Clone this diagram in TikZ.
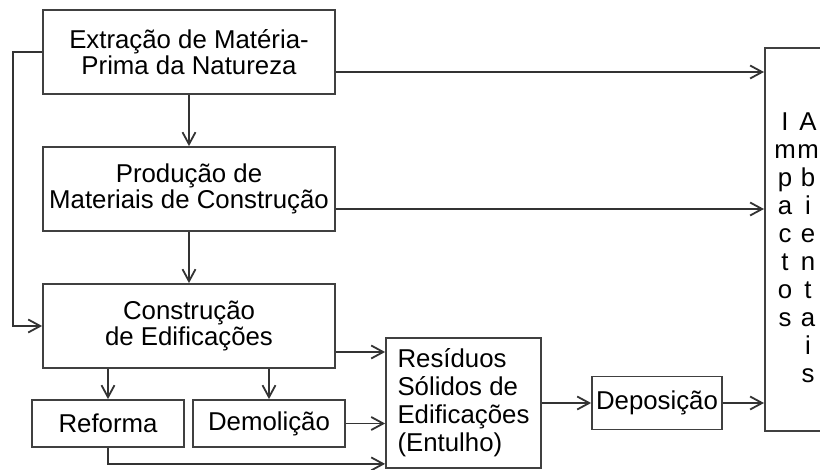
\documentclass[tikz,border=0pt]{standalone}
\usepackage{fontspec}
\setmainfont{Liberation Sans}
\usetikzlibrary{positioning,arrows.meta}

\begin{document}
\begin{tikzpicture}[
    node distance=68.5pt,
    block/.style={rectangle, draw=black!75, line width=0.9pt, minimum width=146pt, minimum height=42pt, inner sep=1pt, align=center, font=\fontsize{12.9}{12}\selectfont},
    small/.style={block, minimum width=76pt, minimum height=23.5pt},
    vtext/.style={inner sep=0pt, align=center, font=\fontsize{12.9}{14}\selectfont},
    arrow/.style={-{Straight Barb[length=6pt,width=6.5pt]}, line width=0.9pt, black!80}
]
\useasboundingbox (0,0) rectangle (410pt,-235pt);

% Main chain
\node[block] (extr) at (94.5pt,-26pt) {Extração de Matéria-\\Prima da Natureza};
\node[block, below of=extr] (prod) {Produção de\\Materiais de Construção};
\node[block, below of=prod] (constr) {Construção\\de Edificações};

% Works on buildings
\node[small, below of=constr, xshift=-40.5pt, yshift=19.75pt] (reforma) {Reforma};
\node[small, right of=reforma, xshift=12pt] (demol) {Demolição};

% Waste and where it goes
\node[block, minimum width=77.5pt, minimum height=65pt, align=left, font=\fontsize{12.9}{14}\selectfont, right of=demol, xshift=28.75pt, yshift=10.25pt] (resid) {Resíduos\\Sólidos de\\Edificações\\(Entulho)};
\node[small, minimum width=65pt, minimum height=26.5pt, right of=resid, xshift=28.25pt] (depos) {Deposição};

% Environmental impacts (cut at the right margin)
\node[block, minimum width=40pt, minimum height=191.5pt, anchor=north west] (impact) at (382pt,-23.5pt) {};
\node[vtext, anchor=north] (imp-a) at (392.5pt,-56pt) {I\\m\\p\\a\\c\\t\\o\\s};
\node[vtext, anchor=north] (imp-b) at (404pt,-56pt) {A\\m\\b\\i\\e\\n\\t\\a\\i\\s};

% Chain arrows
\draw[arrow] (extr) -- (prod);
\draw[arrow] (prod) -- (constr);
\draw[arrow] (extr.west) -- ++(-14.5pt,0) |- (constr.west);

% Arrows to the impacts
\draw[arrow] ([yshift=-10pt]extr.east) -- ([yshift=-10pt]extr.east -| impact.west);
\draw[arrow] ([yshift=-10pt]prod.east) -- ([yshift=-10pt]prod.east -| impact.west);
\draw[arrow] (depos.east) -- (depos.east -| impact.west);

% Building works and waste
\draw[arrow] (constr.south -| reforma.north) -- (reforma.north);
\draw[arrow] (constr.south -| demol.north) -- (demol.north);
\draw[arrow] ([yshift=-13pt]constr.east) -- ([yshift=-13pt]constr.east -| resid.west);
\draw[arrow] (demol.east) -- (demol.east -| resid.west);
\draw[arrow] (reforma.south) |- ([yshift=2.5pt]resid.south west);
\draw[arrow] (resid) -- (depos);

\end{tikzpicture}
\end{document}
